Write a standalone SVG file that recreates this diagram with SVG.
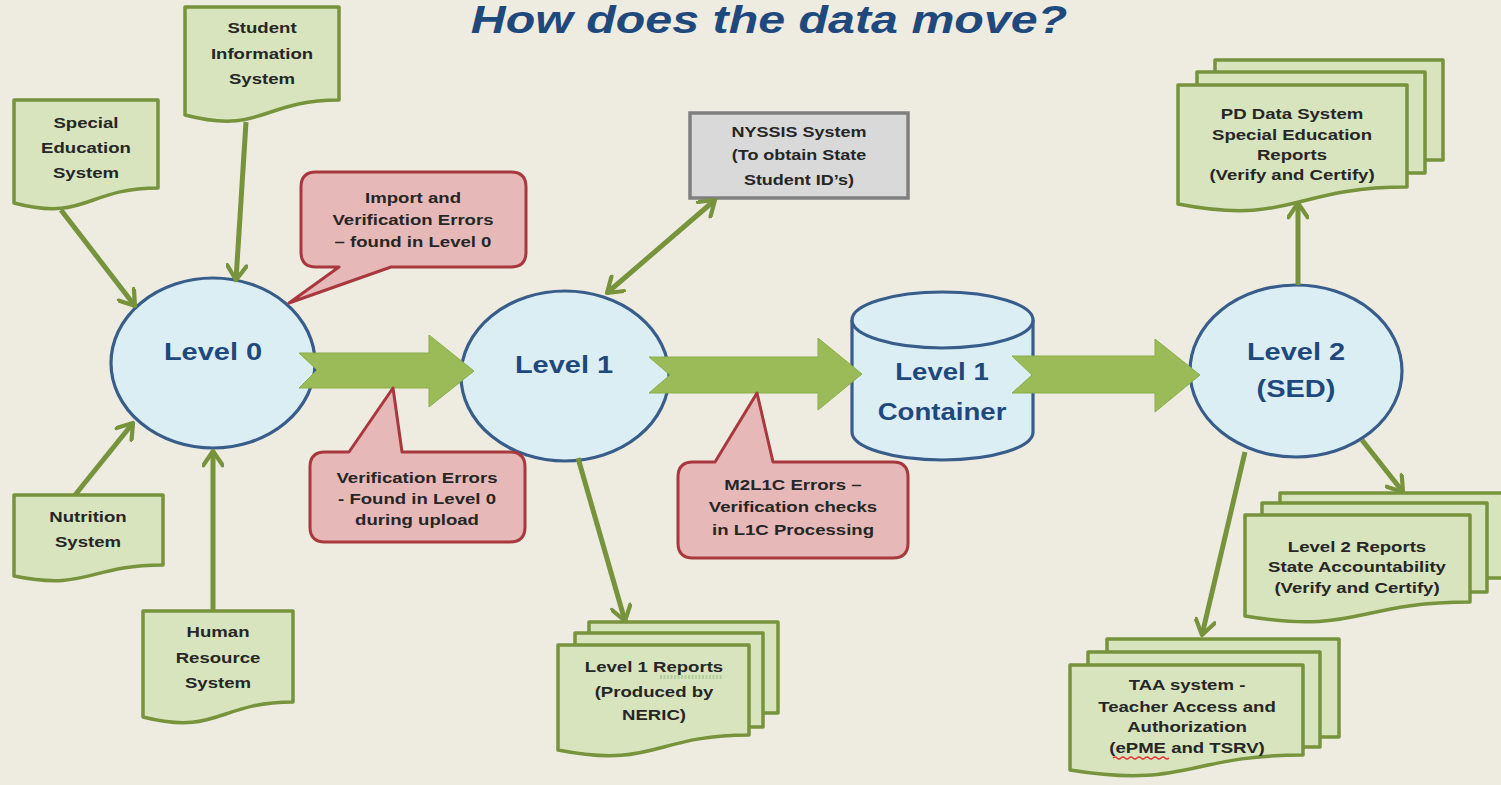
<svg xmlns="http://www.w3.org/2000/svg" width="1501" height="785" viewBox="0 0 1501 785">
<defs>
<style>
.doc{fill:#D7E4BD;stroke:#77933C;stroke-width:3.5;stroke-linejoin:round}
.lvl{fill:#DBEEF4;stroke:#385D8A;stroke-width:3.2}
.call{fill:#E6B9B8;stroke:#A8383E;stroke-width:3;stroke-linejoin:round}
.gray{fill:#D9D9D9;stroke:#7F7F7F;stroke-width:3.5}
.blk{fill:#9BBB59;stroke:#8AAD4A;stroke-width:1}
.con{fill:none;stroke:#77933C;stroke-width:5;marker-end:url(#ah)}
.t{font-family:"Liberation Sans",Arial,sans-serif;font-weight:bold;font-size:15px;fill:#262626;text-anchor:middle}
.lt{font-family:"Liberation Sans",Arial,sans-serif;font-weight:bold;font-size:23px;fill:#1F497D;text-anchor:middle}
</style>
<marker id="ah" viewBox="0 0 10 10" refX="8.5" refY="5" markerWidth="4.4" markerHeight="4.4" orient="auto-start-reverse" markerUnits="strokeWidth">
<path d="M2,0.6 L8.5,5 L2,9.4" fill="none" stroke="#77933C" stroke-width="1.9" stroke-linecap="round" stroke-linejoin="round"/>
</marker>
</defs>
<rect width="1501" height="785" fill="#EEECE1"/>
<text transform="translate(769,33) scale(1.24,1)" font-family="'Liberation Sans',Arial,sans-serif" font-weight="bold" font-style="italic" font-size="39" fill="#1F497D" text-anchor="middle">How does the data move?</text>

<g id="special-education">
<path class="doc" d="M14,100 H158 V188 C86,188 86,222 14,203 Z"/>
<text class="t" transform="translate(86,0) scale(1.24,1)"><tspan x="0" y="128">Special</tspan><tspan x="0" y="153">Education</tspan><tspan x="0" y="178">System</tspan></text>
</g>
<g id="student-information">
<path class="doc" d="M185,7 H339 V100 C262,100 262,135 185,115 Z"/>
<text class="t" transform="translate(262,0) scale(1.24,1)"><tspan x="0" y="33">Student</tspan><tspan x="0" y="59">Information</tspan><tspan x="0" y="84">System</tspan></text>
</g>
<g id="nutrition">
<path class="doc" d="M14,495 H163 V565 C88,565 88,591 14,576 Z"/>
<text class="t" transform="translate(88,0) scale(1.24,1)"><tspan x="0" y="522">Nutrition</tspan><tspan x="0" y="547">System</tspan></text>
</g>
<g id="human-resource">
<path class="doc" d="M143,611 H293 V702 C218,702 218,736 143,717 Z"/>
<text class="t" transform="translate(218,0) scale(1.24,1)"><tspan x="0" y="637">Human</tspan><tspan x="0" y="663">Resource</tspan><tspan x="0" y="688">System</tspan></text>
</g>
<g id="pd-data">
<rect class="doc" x="1215" y="60" width="228" height="100"/>
<rect class="doc" x="1197" y="72" width="228" height="101"/>
<path class="doc" d="M1178,85 H1407 V187 C1292,187 1292,226 1178,204 Z"/>
<text class="t" transform="translate(1292,0) scale(1.24,1)"><tspan x="0" y="119">PD Data System</tspan><tspan x="0" y="140">Special Education</tspan><tspan x="0" y="160">Reports</tspan><tspan x="0" y="180">(Verify and Certify)</tspan></text>
</g>
<g id="level2-reports">
<rect class="doc" x="1280" y="493" width="235" height="85"/>
<rect class="doc" x="1262" y="503" width="225" height="89"/>
<path class="doc" d="M1245,515 H1470 V602 C1357,602 1357,635 1245,616 Z"/>
<text class="t" transform="translate(1357,0) scale(1.24,1)"><tspan x="0" y="552">Level 2 Reports</tspan><tspan x="0" y="572">State Accountability</tspan><tspan x="0" y="593">(Verify and Certify)</tspan></text>
</g>
<g id="taa">
<rect class="doc" x="1107" y="639" width="232" height="98"/>
<rect class="doc" x="1088" y="652" width="232" height="95"/>
<path class="doc" d="M1070,665 H1303 V755 C1187,755 1187,789 1070,770 Z"/>
<text class="t" transform="translate(1187,0) scale(1.24,1)"><tspan x="0" y="690">TAA system -</tspan><tspan x="0" y="712">Teacher Access and</tspan><tspan x="0" y="732">Authorization</tspan><tspan x="0" y="753">(ePME and TSRV)</tspan></text>
<path d="M1113,758 q2,-2 4,0 t4,0 t4,0 t4,0 t4,0 t4,0 t4,0 t4,0 t4,0 t4,0 t4,0 t4,0 t4,0 t4,0" fill="none" stroke="#E03030" stroke-width="1.2"/>
</g>
<g id="level1-reports">
<rect class="doc" x="589" y="622" width="189" height="91"/>
<rect class="doc" x="575" y="633" width="188" height="94"/>
<path class="doc" d="M558,645 H749 V735 C654,735 654,769 558,750 Z"/>
<text class="t" transform="translate(654,0) scale(1.24,1)"><tspan x="0" y="672">Level 1 Reports</tspan><tspan x="0" y="697">(Produced by</tspan><tspan x="0" y="720">NERIC)</tspan></text>
<path d="M660,676 H723 M660,678 H723" fill="none" stroke="#7FB06A" stroke-width="0.8" stroke-dasharray="2,1.5"/>
</g>
<g id="nyssis">
<rect class="gray" x="690" y="113" width="218" height="85"/>
<text class="t" transform="translate(799,0) scale(1.2,1)"><tspan x="0" y="137">NYSSIS System</tspan><tspan x="0" y="160">(To obtain State</tspan><tspan x="0" y="185">Student ID’s)</tspan></text>
</g>
<g id="level0">
<ellipse class="lvl" cx="213" cy="363" rx="102" ry="85"/>
<text class="lt" transform="translate(213,360) scale(1.26,1)">Level 0</text>
</g>
<g id="level1">
<ellipse class="lvl" cx="565" cy="376" rx="104" ry="85"/>
<text class="lt" transform="translate(564,373) scale(1.26,1)">Level 1</text>
</g>
<g id="level1-container">
<path class="lvl" d="M852,320 V432 A90.5,28 0 0 0 1033,432 V320"/>
<ellipse class="lvl" cx="942.5" cy="320" rx="90.5" ry="28"/>
<text class="lt" font-size="24" transform="translate(942,380) scale(1.2,1)">Level 1</text>
<text class="lt" font-size="24" transform="translate(942,420) scale(1.2,1)">Container</text>
</g>
<g id="level2">
<ellipse class="lvl" cx="1296" cy="371" rx="106" ry="86"/>
<text class="lt" transform="translate(1296,360) scale(1.26,1)">Level 2</text>
<text class="lt" transform="translate(1296,397) scale(1.26,1)">(SED)</text>
</g>

<g id="connectors">
<path class="con" d="M61,210 L135,306"/>
<path class="con" d="M246,122 L236,280"/>
<path class="con" d="M75,495 L133,423"/>
<path class="con" d="M213,611 L213,451"/>
<path class="con" d="M607,293 L715,200" style="marker-start:url(#ah)"/>
<path class="con" d="M578,458 L625,621"/>
<path class="con" d="M1298,285 L1298,203"/>
<path class="con" d="M1362,440 L1403,492"/>
<path class="con" d="M1245,452 L1202,635"/>
<path class="blk" d="M299,353 L429,353 L429,335 L474,371 L429,407 L429,388 L299,388 L317,370 Z"/>
<path class="blk" d="M649,357 L818,357 L818,338 L862,374 L818,410 L818,393 L649,393 L670,375 Z"/>
<path class="blk" d="M1012,356 L1155,356 L1155,339 L1200,375 L1155,412 L1155,393 L1012,393 L1032,375 Z"/>
</g>

<g id="callout-import">
<path class="call" d="M316,172 H511 Q526,172 526,187 V252 Q526,267 511,267 H391 L289,303 L339,267 H316 Q301,267 301,252 V187 Q301,172 316,172 Z"/>
<text class="t" transform="translate(413,0) scale(1.24,1)"><tspan x="0" y="203">Import and</tspan><tspan x="0" y="225">Verification Errors</tspan><tspan x="0" y="247">– found in Level 0</tspan></text>
</g>
<g id="callout-verification">
<path class="call" d="M325,452 H349 L393,388 L402,452 H510 Q525,452 525,467 V527 Q525,542 510,542 H325 Q310,542 310,527 V467 Q310,452 325,452 Z"/>
<text class="t" transform="translate(417,0) scale(1.24,1)"><tspan x="0" y="483">Verification Errors</tspan><tspan x="0" y="504">- Found in Level 0</tspan><tspan x="0" y="525">during upload</tspan></text>
</g>
<g id="callout-m2l1c">
<path class="call" d="M693,462 H715 L757,393 L773,462 H893 Q908,462 908,477 V543 Q908,558 893,558 H693 Q678,558 678,543 V477 Q678,462 693,462 Z"/>
<text class="t" transform="translate(793,0) scale(1.24,1)"><tspan x="0" y="490">M2L1C Errors –</tspan><tspan x="0" y="512">Verification checks</tspan><tspan x="0" y="535">in L1C Processing</tspan></text>
</g>
</svg>
